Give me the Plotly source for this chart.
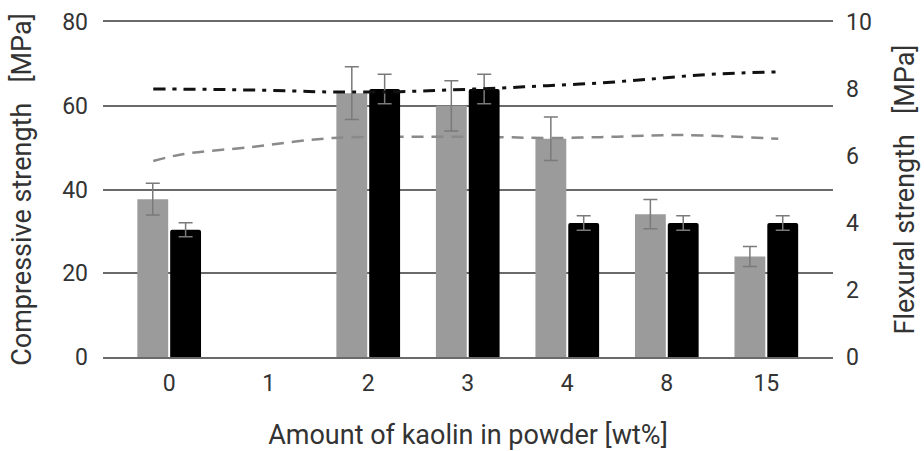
import plotly.graph_objects as go

categories = ["0", "1", "2", "3", "4", "8", "15"]
compressive = [37.7, None, 63.0, 60.0, 52.1, 34.1, 24.0]
compressive_err = [3.8, 0, 6.3, 6.0, 5.2, 3.5, 2.4]
flexural = [3.8, None, 8.0, 8.0, 4.0, 4.0, 4.0]
flexural_err = [0.21, 0, 0.44, 0.44, 0.22, 0.22, 0.22]

# trend curves (x in category index units)
flex_trend_x = [-0.16, 0.4, 0.81, 1.25, 1.65, 2.32, 2.8, 3.33, 3.8, 4.33, 4.85, 5.34, 5.75, 6.12]
flex_trend_y = [8.0, 7.99, 7.97, 7.94, 7.91, 7.92, 7.97, 8.03, 8.1, 8.18, 8.3, 8.42, 8.48, 8.51]
comp_trend_x = [-0.16, 0.15, 0.81, 1.25, 1.65, 2.32, 2.8, 3.33, 3.8, 4.33, 4.85, 5.15, 5.6, 6.12]
comp_trend_y = [46.8, 48.5, 50.1, 51.4, 52.3, 52.6, 52.6, 52.5, 52.3, 52.5, 52.9, 53.0, 52.7, 52.1]

xi = list(range(len(categories)))
FONT = "Roboto"
TXT = "#333333"
GRID = "#6a6a6a"

fig = go.Figure()
fig.add_trace(go.Bar(
    x=xi, y=compressive, width=0.31, offset=-0.32,
    marker=dict(color="#9b9b9b", line=dict(width=0)),
    error_y=dict(type="data", array=compressive_err, color="#7a7a7a", thickness=1.5, width=7),
    yaxis="y", showlegend=False,
))
fig.add_trace(go.Bar(
    x=xi, y=flexural, width=0.31, offset=0.01,
    marker=dict(color="#000000", line=dict(width=0), cornerradius=2),
    error_y=dict(type="data", array=flexural_err, color="#7a7a7a", thickness=1.5, width=7),
    yaxis="y2", showlegend=False,
))
fig.add_trace(go.Scatter(
    x=flex_trend_x, y=flex_trend_y, mode="lines", line_shape="spline",
    line=dict(color="#111111", width=3, dash="12px,7px,4px,7px"),
    yaxis="y2", showlegend=False,
))
fig.add_trace(go.Scatter(
    x=comp_trend_x, y=comp_trend_y, mode="lines", line_shape="spline",
    line=dict(color="#8a8a8a", width=2.5, dash="12px,8px"),
    yaxis="y", showlegend=False,
))

fig.update_layout(
    width=924, height=451,
    margin=dict(l=103, r=91, t=22, b=94, autoexpand=False),
    paper_bgcolor="white", plot_bgcolor="white",
    font=dict(family=FONT, color=TXT, size=23),
    barmode="overlay",
    xaxis=dict(
        range=[-0.665, 6.67], tickvals=xi, ticktext=categories,
        showgrid=False, zeroline=False, ticks="",
        showline=True, mirror=True, linecolor=GRID, linewidth=1.5,
        tickfont=dict(size=23, color=TXT), ticklabelstandoff=5, automargin=False,
        title=dict(text="Amount of kaolin in powder [wt%]", font=dict(size=27, color=TXT), standoff=31),
    ),
    yaxis=dict(
        range=[0, 80], tickvals=[0, 20, 40, 60, 80],
        showgrid=True, gridcolor=GRID, gridwidth=1.5,
        zeroline=False, showline=False, ticks="",
        tickfont=dict(size=23, color=TXT), ticklabelstandoff=14, automargin=False,
        title=dict(text="Compressive strength   [MPa]", font=dict(size=27, color=TXT), standoff=22),
    ),
    yaxis2=dict(
        range=[0, 10], tickvals=[0, 2, 4, 6, 8, 10], overlaying="y", side="right",
        showgrid=False, zeroline=False, showline=False, ticks="",
        tickfont=dict(size=23, color=TXT), ticklabelstandoff=12, automargin=False,
        title=dict(text="Flexural strength   [MPa]", font=dict(size=27, color=TXT), standoff=24),
    ),
)

fig.write_html("out.html")
